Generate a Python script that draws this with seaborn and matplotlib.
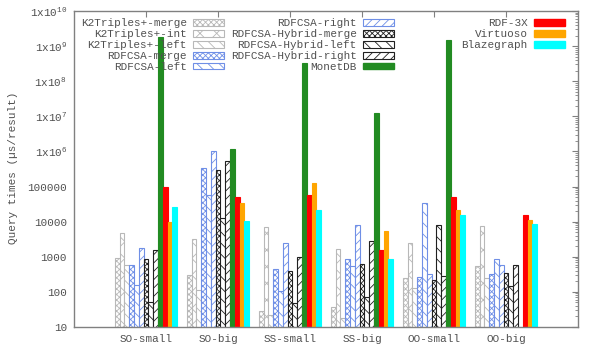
import matplotlib
matplotlib.use("Agg")
import matplotlib.pyplot as plt
import matplotlib.ticker as mticker
from matplotlib.patches import Patch
import numpy as np
import pandas as pd
import seaborn as sns

# query groups on the x axis
queries = ["SO-small", "SO-big", "SS-small", "SS-big", "OO-small", "OO-big"]

# query times (us/result), one list per system, same order as queries
k2_merge = [950, 300, 29, 36, 250, 560]
k2_int = [4800, 3200, 7000, 1700, 2500, 7400]
k2_left = [600, 112, 22, 18, 130, 250]
rdfcsa_merge = [600, 330000, 450, 850, 265, 325]
rdfcsa_left = [160, 59000, 108, 560, 33000, 850]
rdfcsa_right = [1800, 1000000, 2500, 8000, 315, 590]
hybrid_merge = [870, 290000, 400, 630, 218, 345]
hybrid_left = [51, 13000, 48, 71, 8100, 150]
hybrid_right = [1570, 520000, 1000, 2900, 276, 590]
monetdb = [1.8e9, 1.15e6, 3.2e8, 1.23e7, 1.5e9, np.nan]
rdf3x = [94000, 50000, 57000, 1600, 49000, 15500]
virtuoso = [10000, 33000, 126000, 5600, 22000, 11500]
blazegraph = [26000, 10500, 22000, 850, 15000, 8500]

systems = ["K2Triples+-merge", "K2Triples+-int", "K2Triples+-left",
           "RDFCSA-merge", "RDFCSA-left", "RDFCSA-right",
           "RDFCSA-Hybrid-merge", "RDFCSA-Hybrid-left", "RDFCSA-Hybrid-right",
           "MonetDB", "RDF-3X", "Virtuoso", "Blazegraph"]
series = [k2_merge, k2_int, k2_left, rdfcsa_merge, rdfcsa_left, rdfcsa_right,
          hybrid_merge, hybrid_left, hybrid_right, monetdb, rdf3x, virtuoso, blazegraph]

gray = "#b8b8b8"
blue = "#6f8fe6"
black = "#202020"
# (color, hatch, solid)
styles = [(gray, "xxxxxx", False), (gray, "xx", False), (gray, "\\\\\\", False),
          (blue, "xxxxxx", False), (blue, "\\\\\\", False), (blue, "////", False),
          (black, "xxxxxx", False), (black, "\\\\\\", False), (black, "////", False),
          ("#228b22", "", True), ("#ff0000", "", True), ("#ffa500", "", True),
          ("#00ffff", "", True)]

rows = []
for name, vals in zip(systems, series):
    for q, v in zip(queries, vals):
        rows.append({"query": q, "system": name, "time": v})
df = pd.DataFrame(rows)

sns.set_style("white")
plt.rcParams["font.family"] = ["Liberation Mono", "DejaVu Sans"]
plt.rcParams["mathtext.default"] = "regular"
plt.rcParams["hatch.linewidth"] = 0.6
txt = "#505050"

fig = plt.figure(figsize=(5.98, 3.49), dpi=100)
ax = fig.add_axes([74 / 598, 1 - 327 / 349, 504 / 598, 316 / 349])

sns.barplot(data=df, x="query", y="time", hue="system", order=queries,
            hue_order=systems, width=0.867, errorbar=None, saturation=1,
            legend=False, ax=ax)

for cont, (col, hatch, solid) in zip(ax.containers, styles):
    for bar in cont:
        if solid:
            bar.set_facecolor(col)
            bar.set_edgecolor(col)
        else:
            bar.set_facecolor("white")
            bar.set_edgecolor(col)
            bar.set_hatch(hatch)
        bar.set_linewidth(0.8)

ax.set_yscale("log")
ax.set_ylim(10, 1e10)
ax.set_xlim(-1, 6)

yt = [10 ** k for k in range(1, 11)]
ylabels = ["10", "100", "1000", "10000", "100000"] + ["1x10$^{%d}$" % k for k in range(6, 11)]
ax.set_yticks(yt)
ax.set_yticklabels(ylabels)
ax.yaxis.set_minor_locator(mticker.LogLocator(base=10, subs=np.arange(2, 10), numticks=20))
ax.yaxis.set_minor_formatter(mticker.NullFormatter())

ax.tick_params(which="both", direction="in", top=True, right=True,
               colors="#808080", labelcolor=txt, labelsize=7.9)
ax.tick_params(which="major", length=4, width=0.8)
ax.tick_params(which="minor", length=2, width=0.6)
ax.tick_params(axis="x", pad=5)
ax.tick_params(axis="y", pad=5)
for s in ax.spines.values():
    s.set_color("#808080")
    s.set_linewidth(1.0)

ax.set_xlabel("")
ax.set_ylabel("")
fig.text(13 / 598, 1 - 168 / 349, "Query times (µs/result)", rotation=90,
         ha="center", va="center", fontsize=7.9, color=txt)

# legend: three columns, text right-aligned next to the swatch
handles = []
for name, (col, hatch, solid) in zip(systems, styles):
    if solid:
        handles.append(Patch(facecolor=col, edgecolor=col, label=name))
    else:
        handles.append(Patch(facecolor="white", edgecolor=col, hatch=hatch,
                             linewidth=0.8, label=name))

col_groups = [(handles[0:5], 224), (handles[5:10], 394), (handles[10:13], 565)]
for hs, xr in col_groups:
    leg = fig.legend(handles=hs, loc="upper right", bbox_to_anchor=(xr / 598, 1 - 18.5 / 349),
                     frameon=False, markerfirst=False, fontsize=7.9,
                     handlelength=2.85, handleheight=0.55, handletextpad=0.55,
                     labelspacing=0.08, borderpad=0, borderaxespad=0)
    for t in leg.get_texts():
        t.set_color(txt)

fig.savefig("out.png", dpi=100)
